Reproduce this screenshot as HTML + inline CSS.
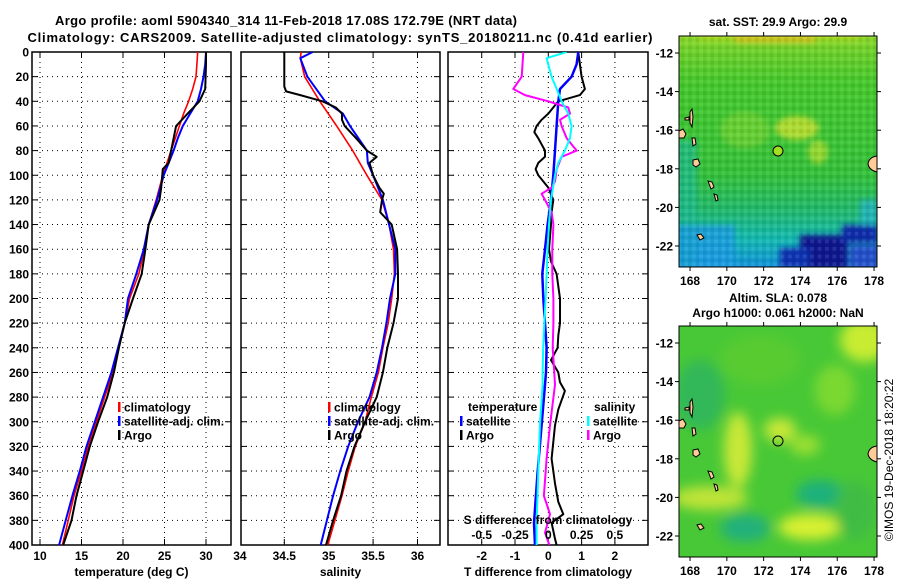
<!DOCTYPE html>
<html><head><meta charset="utf-8"><style>
html,body{margin:0;padding:0;background:#fff;}
svg{display:block;font-family:"Liberation Sans",Arial,sans-serif;font-weight:bold;}
</style></head><body>
<svg id="fig" width="900" height="580" viewBox="0 0 900 580" xmlns="http://www.w3.org/2000/svg">
<defs>
<clipPath id="c1"><rect x="32" y="52" width="199" height="493"/></clipPath>
<clipPath id="c2"><rect x="241" y="52" width="199" height="493"/></clipPath>
<clipPath id="c3"><rect x="448" y="52" width="200" height="493"/></clipPath>
<clipPath id="m1"><rect x="679" y="36" width="198" height="231"/></clipPath>
<clipPath id="m2"><rect x="679" y="326" width="198" height="231"/></clipPath>
<filter id="bl" x="-50%" y="-50%" width="200%" height="200%"><feGaussianBlur stdDeviation="6"/></filter>
<filter id="bl2" x="-50%" y="-50%" width="200%" height="200%"><feGaussianBlur stdDeviation="3"/></filter>
<pattern id="px" width="7.4" height="7.6" patternUnits="userSpaceOnUse">
<rect x="0" y="0" width="3.7" height="3.8" fill="#000" opacity="0.08"/>
<rect x="3.7" y="3.8" width="3.7" height="3.8" fill="#fff" opacity="0.1"/>
</pattern>
<linearGradient id="g1" x1="0" y1="0" x2="0" y2="1">
<stop offset="0" stop-color="#8fd82a"/>
<stop offset="0.06" stop-color="#6fd02a"/>
<stop offset="0.2" stop-color="#46c82c"/>
<stop offset="0.6" stop-color="#34c03a"/>
<stop offset="0.75" stop-color="#22b86a"/>
<stop offset="0.88" stop-color="#14b8b0"/>
<stop offset="1" stop-color="#1090d8"/>
</linearGradient>
</defs>
<text x="286" y="25" text-anchor="middle" font-size="13" textLength="462">Argo profile: aoml 5904340_314 11-Feb-2018 17.08S 172.79E (NRT data)</text>
<text x="340" y="42" text-anchor="middle" font-size="13" textLength="625">Climatology: CARS2009. Satellite-adjusted climatology: synTS_20180211.nc (0.41d earlier)</text>

<g id="p1"></g>
<g id="p2"></g>
<g id="p3"></g>

<!-- map 1 -->
<text x="778" y="26" text-anchor="middle" font-size="12">sat. SST: 29.9 Argo: 29.9</text>
<g clip-path="url(#m1)">
<rect x="679" y="36" width="198" height="231" fill="url(#g1)"/>
<g filter="url(#bl2)">
<rect x="735" y="30" width="80" height="12" fill="#f0b020"/>
<rect x="700" y="30" width="160" height="10" fill="#b8dc20" opacity="0.7"/>
<ellipse cx="797" cy="128" rx="22" ry="12" fill="#c8e030" opacity="0.8"/>
<ellipse cx="818" cy="152" rx="10" ry="12" fill="#b8e030" opacity="0.7"/>
<ellipse cx="745" cy="130" rx="25" ry="18" fill="#8cd830" opacity="0.5"/>
<rect x="675" y="140" width="22" height="130" fill="#20b890" opacity="0.7"/>
<rect x="675" y="225" width="60" height="45" fill="#1898e0" opacity="0.8"/>
<rect x="800" y="235" width="48" height="35" fill="#08148c"/>
<rect x="780" y="248" width="30" height="20" fill="#1030b0"/>
<rect x="842" y="225" width="36" height="18" fill="#0a2aa8"/>
<rect x="850" y="245" width="30" height="25" fill="#2050c8"/>
<rect x="860" y="200" width="18" height="25" fill="#20b0c0" opacity="0.8"/>
</g>
<rect x="679" y="36" width="198" height="231" fill="url(#px)"/>
<g id="isl1" fill="#ffcc99" stroke="#000" stroke-width="1">
<path d="M679,131 l4,-2 l3,5 l-2,4 l-5,0 z"/>
<path d="M690,112 l2,-3 l1,8 l-1,10 l-2,-4 z"/>
<path d="M685,118 l4,-1 l0,3 l-4,0 z"/>
<path d="M692,138 l3,0 l1,6 l-3,2 z"/>
<path d="M693,160 l5,-1 l2,5 l-4,3 l-3,-2 z"/>
<path d="M708,181 l4,1 l2,5 l-3,2 z"/>
<path d="M714,194 l3,1 l1,5 l-2,1 z"/>
<path d="M697,235 l4,-1 l3,4 l-4,2 z"/>
<path d="M877,156 q-8,1 -9,8 q1,6 9,8 z"/>
</g>
<circle cx="778" cy="151" r="5" fill="#a0e020" stroke="#000" stroke-width="1"/>
</g>
<rect x="679" y="36" width="198" height="231" fill="none" stroke="#000" stroke-width="1"/>

<!-- map 2 -->
<text x="778" y="302" text-anchor="middle" font-size="12">Altim. SLA: 0.078</text>
<text x="778" y="317" text-anchor="middle" font-size="12">Argo h1000: 0.061 h2000: NaN</text>
<g clip-path="url(#m2)">
<rect x="679" y="326" width="198" height="231" fill="#48c836"/>
<g filter="url(#bl)">
<ellipse cx="700" cy="395" rx="25" ry="35" fill="#30b858"/>
<ellipse cx="760" cy="360" rx="40" ry="25" fill="#5ccc30" opacity="0.8"/>
<ellipse cx="865" cy="340" rx="25" ry="22" fill="#c8ec30"/>
<ellipse cx="835" cy="390" rx="20" ry="25" fill="#88dc30" opacity="0.8"/>
<ellipse cx="738" cy="450" rx="14" ry="38" fill="#c8e838"/>
<ellipse cx="780" cy="430" rx="16" ry="12" fill="#c8e838"/>
<ellipse cx="805" cy="445" rx="15" ry="10" fill="#9ce030"/>
<ellipse cx="710" cy="498" rx="38" ry="12" fill="#c0e438"/>
<ellipse cx="745" cy="528" rx="25" ry="14" fill="#20b07c"/>
<ellipse cx="820" cy="494" rx="24" ry="14" fill="#1eb07c"/>
<ellipse cx="810" cy="527" rx="32" ry="13" fill="#d8f030"/>
<ellipse cx="855" cy="510" rx="20" ry="30" fill="#40bc44"/>
</g>
<g id="isl2" fill="#ffcc99" stroke="#000" stroke-width="1" transform="translate(0,290)">
<path d="M679,131 l4,-2 l3,5 l-2,4 l-5,0 z"/>
<path d="M690,112 l2,-3 l1,8 l-1,10 l-2,-4 z"/>
<path d="M685,118 l4,-1 l0,3 l-4,0 z"/>
<path d="M692,138 l3,0 l1,6 l-3,2 z"/>
<path d="M693,160 l5,-1 l2,5 l-4,3 l-3,-2 z"/>
<path d="M708,181 l4,1 l2,5 l-3,2 z"/>
<path d="M714,194 l3,1 l1,5 l-2,1 z"/>
<path d="M697,235 l4,-1 l3,4 l-4,2 z"/>
<path d="M877,156 q-8,1 -9,8 q1,6 9,8 z"/>
</g>
<circle cx="778" cy="441" r="5" fill="none" stroke="#000" stroke-width="1"/>
</g>
<rect x="679" y="326" width="198" height="231" fill="none" stroke="#000" stroke-width="1"/>
<g id="maxes" font-size="12"></g>
<text transform="translate(893,460) rotate(-90)" text-anchor="middle" font-size="12" font-weight="normal">©IMOS 19-Dec-2018 18:20:22</text>
</svg>
<script>
// ---- data ----
const depthTicks = [0,20,40,60,80,100,120,140,160,180,200,220,240,260,280,300,320,340,360,380,400];
const tempTicks = [10,15,20,25,30];
const salTicks = [34,34.5,35,35.5,36];
const tdiffTicks = [-2,-1,0,1,2];
const sdiffTicks = [-0.5,-0.25,0,0.25,0.5];
const sdiffTickLabels = ["-0.5","-0.25","0","0.25","0.5"];

const tClimDepth = [0,10,20,30,40,50,60,70,80,90,100,120,140,160,180,200,220,240,260,280,300,320,340,360,380,400];
const tClimValue = [29.0,28.9,28.8,28.4,27.9,27.3,26.8,26.3,25.8,25.3,24.8,24.0,23.1,22.6,21.9,20.8,20.2,19.4,18.8,17.8,16.8,15.8,15.0,14.1,13.4,12.7];
const tSatClimDepth = [0,10,20,30,40,50,60,70,80,90,100,120,140,160,180,200,220,240,260,280,300,320,340,360,380,400];
const tSatClimValue = [30.0,29.9,29.7,29.4,29.0,28.1,27.2,26.6,26.1,25.5,24.9,24.1,23.1,22.5,21.6,20.6,20.2,19.4,18.6,17.6,16.6,15.6,14.8,13.9,13.1,12.3];
const tArgoDepth = [0,10,20,30,40,50,60,70,80,90,95,110,120,140,160,180,200,220,240,260,280,300,320,340,360,380,400];
const tArgoValue = [30.0,30.0,29.95,29.9,29.2,27.8,26.4,26.1,25.8,25.5,24.8,24.6,24.4,23.1,22.7,22.25,21.2,20.2,19.5,18.9,18.1,17.0,16.0,15.2,14.4,13.8,12.8];

const sClimDepth = [0,5,20,40,60,80,100,120,140,160,180,200,220,240,260,280,300,320,340,360,380,400];
const sClimValue = [34.69,34.68,34.73,34.90,35.09,35.27,35.43,35.60,35.68,35.73,35.74,35.71,35.67,35.61,35.56,35.48,35.41,35.30,35.22,35.15,35.07,34.99];
const sSatClimDepth = [0,5,20,40,50,60,80,90,100,120,140,160,180,200,220,240,260,280,300,320,340,360,380,400];
const sSatClimValue = [34.82,34.68,34.76,34.96,35.16,35.24,35.43,35.44,35.50,35.61,35.68,35.75,35.75,35.69,35.65,35.60,35.54,35.46,35.33,35.22,35.13,35.05,34.98,34.91];
const sArgoDepth = [0,28,32,35,40,45,50,55,60,70,80,85,90,100,110,115,120,130,140,160,180,200,220,240,260,280,300,320,340,360,380,400];
const sArgoValue = [34.50,34.50,34.52,34.68,34.93,35.08,35.15,35.15,35.18,35.31,35.43,35.54,35.46,35.50,35.57,35.62,35.60,35.58,35.71,35.77,35.78,35.78,35.73,35.66,35.61,35.54,35.41,35.29,35.20,35.14,35.05,34.97];

const dTSatDepth = [0,10,20,30,40,60,80,100,120,140,160,180,200,220,240,260,270,303,341,382,400];
const dTSatValue = [0.90,0.85,0.70,0.35,0.30,0.25,0.20,0.15,0.08,-0.02,-0.10,-0.18,-0.15,-0.10,-0.05,-0.07,-0.10,-0.20,-0.32,-0.43,-0.40];
const dTArgoDepth = [0,10,20,30,35,40,50,55,60,65,70,80,85,90,95,100,110,120,130,140,160,170,180,200,220,230,240,250,260,268,275,290,303,330,350,365,375,382,395,400];
const dTArgoValue = [0.90,0.95,1.0,1.1,0.95,0.3,0,-0.2,-0.35,-0.42,-0.3,-0.1,-0.1,-0.3,-0.38,-0.3,0,0.15,0.1,0.08,0.02,0.08,0.25,0.35,0.35,0.3,0.28,0.08,0.3,0.35,0.5,0.3,0.2,0.1,0.2,0.3,0.45,0.1,0.2,0.25];
const dSSatDepth = [0,5,20,30,40,50,60,70,80,90,100,120,140,160,180,200,220,240,260,270,303,341,382,400];
const dSSatValue = [0.138,-0.013,0.025,0.063,0.1,0.15,0.175,0.163,0.125,0.075,0.05,0.02,0.005,-0.005,-0.013,-0.02,-0.03,-0.038,-0.043,-0.043,-0.063,-0.075,-0.088,-0.088];
const dSArgoDepth = [0,20,30,35,40,43,45,50,55,60,70,75,80,85,95,105,110,115,120,130,140,160,180,200,220,240,260,270,303,330,360,375,390,400];
const dSArgoValue = [-0.188,-0.2,-0.263,-0.175,0,0.088,0.15,0.163,0.088,0.1,0.138,0.175,0.213,0.1,0.063,0.05,0.025,-0.05,-0.025,0.025,0.038,0.03,0.03,0.038,0.038,0.033,0.045,0.05,0.013,-0.013,-0.033,0.013,-0.025,0.008];

const mapLonTicks = [168,170,172,174,176,178];
const mapLatTicks = [-12,-14,-16,-18,-20,-22];

// ---- scales ----
const TOP=52, BOT=545;
const yD = d => TOP + d*(BOT-TOP)/400;
const xT = t => 40 + (t-10)*8.3;
const xS = s => 284.3 + (s-34.5)*88.8;
const xDT = t => 548.3 + t*33.3;
const xDS = s => 548.3 + s*133.2;
const NS='http://www.w3.org/2000/svg';
function mk(tag, attrs, parent){const e=document.createElementNS(NS,tag);for(const k in attrs)e.setAttribute(k,attrs[k]);parent.appendChild(e);return e;}

function panel(g, L, R, xs, ticks, labels, clip, xlabel){
  depthTicks.forEach(d=>{ if(d>0&&d<400) mk('line',{x1:L,x2:R,y1:yD(d),y2:yD(d),stroke:'#000','stroke-dasharray':'1 4','stroke-width':1},g);
    mk('line',{x1:L,x2:L+6,y1:yD(d),y2:yD(d),stroke:'#000'},g);
    mk('line',{x1:R-6,x2:R,y1:yD(d),y2:yD(d),stroke:'#000'},g);});
  ticks.forEach((t,i)=>{const x=xs(t); if(x>L+1&&x<R-1){
    mk('line',{x1:x,x2:x,y1:TOP,y2:BOT,stroke:'#000','stroke-dasharray':'1 4','stroke-width':1},g);
    mk('line',{x1:x,x2:x,y1:BOT,y2:BOT-6,stroke:'#000'},g);
    mk('line',{x1:x,x2:x,y1:TOP,y2:TOP+6,stroke:'#000'},g);}
    const tx=mk('text',{x:x,y:560,'text-anchor':'middle','font-size':12},g);
    tx.textContent=labels[i];
    
    
  });
  const xl=mk('text',{x:(L+R)/2,y:576,'text-anchor':'middle','font-size':12},g);
  xl.textContent=xlabel;
  
  
  mk('rect',{x:L,y:TOP,width:R-L,height:BOT-TOP,fill:'none',stroke:'#000','stroke-width':1.5},g);
}
function line(g, xs, depths, vals, color, w, clip, name){
  const d = depths.map((dd,i)=>(i?'L':'M')+xs(vals[i]).toFixed(1)+','+yD(dd).toFixed(1)).join('');
  const p = mk('path',{d:d,fill:'none',stroke:color,'stroke-width':w,'clip-path':'url(#'+clip+')','stroke-linejoin':'round'},g);
  
  
}
function legend(g, x, y, items){
  items.forEach((it,i)=>{
    mk('rect',{x:x,y:y+i*14-5,width:2.5,height:10,fill:it[1]},g);
    const t=mk('text',{x:x+6,y:y+i*14+4.5,'font-size':12},g);
    t.textContent=it[0];
    
    
  });
}
const p1=document.getElementById('p1'), p2=document.getElementById('p2'), p3=document.getElementById('p3');
depthTicks.forEach(d=>{const t=mk('text',{x:29,y:yD(d)+4.5,'text-anchor':'end','font-size':12},p1);
  t.textContent=d;
  
  });
panel(p1,32,231,xT,tempTicks,tempTicks.map(String),'c1','temperature (deg C)');
line(p1,xT,tClimDepth,tClimValue,'#f00',1.6,'c1','temperature-climatology-line');
line(p1,xT,tSatClimDepth,tSatClimValue,'#00f',2,'c1','temperature-satellite-line');
line(p1,xT,tArgoDepth,tArgoValue,'#000',2,'c1','temperature-argo-line');
legend(p1,118,407,[['climatology','#f00'],['satellite-adj. clim.','#00f'],['Argo','#000']]);

panel(p2,241,440,xS,salTicks,salTicks.map(String),'c2','salinity');
line(p2,xS,sClimDepth,sClimValue,'#f00',1.6,'c2','salinity-climatology-line');
line(p2,xS,sSatClimDepth,sSatClimValue,'#00f',2,'c2','salinity-satellite-line');
line(p2,xS,sArgoDepth,sArgoValue,'#000',2,'c2','salinity-argo-line');
legend(p2,328,407,[['climatology','#f00'],['satellite-adj. clim.','#00f'],['Argo','#000']]);

panel(p3,448,648,xDT,tdiffTicks,tdiffTicks.map(String),'c3','T difference from climatology');
line(p3,xDT,dTArgoDepth,dTArgoValue,'#000',2,'c3','t-diff-argo-line');
line(p3,xDT,dTSatDepth,dTSatValue,'#00f',2.5,'c3','t-diff-satellite-line');
line(p3,xDS,dSArgoDepth,dSArgoValue,'#f0f',2,'c3','s-diff-argo-line');
line(p3,xDS,dSSatDepth,dSSatValue,'#0ff',2,'c3','s-diff-satellite-line');
let h=mk('text',{x:468,y:411,'font-size':12},p3); h.textContent='temperature';


h=mk('text',{x:594,y:411,'font-size':12},p3); h.textContent='salinity';


legend(p3,460,421,[['satellite','#00f'],['Argo','#000']]);
legend(p3,587,421,[['satellite','#0ff'],['Argo','#f0f']]);
h=mk('text',{x:548,y:524,'text-anchor':'middle','font-size':12},p3); h.textContent='S difference from climatology';


sdiffTicks.forEach((s,i)=>{const t=mk('text',{x:xDS(s),y:539,'text-anchor':'middle','font-size':12},p3);
  t.textContent=sdiffTickLabels[i];
  
  });

const ma=document.getElementById('maxes');
const xLon = lon => 679 + (lon-167.4)*18.4;
[[53,36,267,285],[343,326,557,575]].forEach(m=>{
  mapLonTicks.forEach(lon=>{const x=xLon(lon);
    mk('line',{x1:x,x2:x,y1:m[1]-4,y2:m[1],stroke:'#000'},ma);
    mk('line',{x1:x,x2:x,y1:m[2],y2:m[2]+4,stroke:'#000'},ma);
    const t=mk('text',{x:x,y:m[3],'text-anchor':'middle','font-size':12},ma);
    t.textContent=lon;
    
    });
  mapLatTicks.forEach(lat=>{const y=m[0]+(-lat-12)*19.3;
    mk('line',{x1:675,x2:679,y1:y,y2:y,stroke:'#000'},ma);
    mk('line',{x1:877,x2:881,y1:y,y2:y,stroke:'#000'},ma);
    const t=mk('text',{x:673,y:y+4.5,'text-anchor':'end','font-size':12},ma);
    t.textContent=lat;
    
    });
});
</script>
</body></html>
